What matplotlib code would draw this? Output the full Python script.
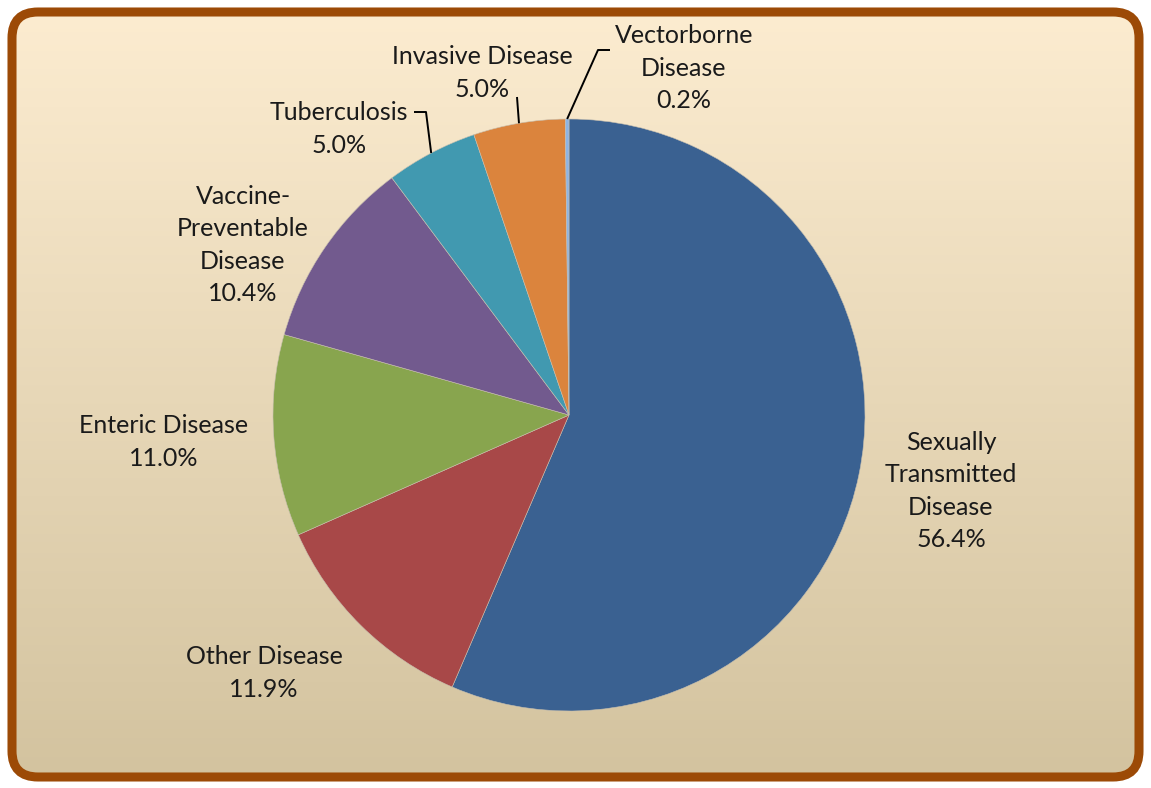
import numpy as np
import matplotlib.pyplot as plt
from matplotlib.patches import FancyBboxPatch

# data
categories = ['Sexually\nTransmitted\nDisease', 'Other Disease', 'Enteric Disease',
              'Vaccine-\nPreventable\nDisease', 'Tuberculosis', 'Invasive Disease',
              'Vectorborne\nDisease']
percents = [56.4, 11.9, 11.0, 10.4, 5.0, 5.0, 0.2]
colors = ['#3A6191', '#A84848', '#88A54E', '#725A8E', '#4199B0', '#DB843D', '#8EB4E3']

W, H = 1151, 788
fig = plt.figure(figsize=(W / 100, H / 100), dpi=100)
ax = fig.add_axes([0, 0, 1, 1])

# rounded frame with vertical gradient
frame = FancyBboxPatch((12, 11), W - 24, H - 23,
                       boxstyle='round,pad=0,rounding_size=26',
                       facecolor='none', edgecolor='#9C4A06', lw=6.5, zorder=3)
ax.add_patch(frame)
top = np.array([252, 236, 208]) / 255
bot = np.array([211, 195, 159]) / 255
t = np.linspace(0, 1, 256)[:, None]
grad = (top * (1 - t) + bot * t)[:, None, :]
im = ax.imshow(grad, extent=[12, W - 12, 11, H - 12], aspect='auto',
               origin='upper', zorder=0)
im.set_clip_path(frame)

cx, cy, r = 569, H - 415, 296
wedges, _ = ax.pie(percents, colors=colors, startangle=90, counterclock=False,
                   center=(cx, cy), radius=r, frame=True,
                   wedgeprops=dict(linewidth=0.4, edgecolor='#C8C0B0'))
for w in wedges:
    w.set_zorder(2)
ax.set_xlim(0, W)
ax.set_ylim(0, H)
ax.set_aspect('equal')
ax.axis('off')

font = dict(family=['Lato', 'DejaVu Sans'], fontsize=18, color='#1A1A1A',
            ha='center', va='center', linespacing=1.48, zorder=4)

def edge_point(i):
    w = wedges[i]
    a = np.deg2rad((w.theta1 + w.theta2) / 2)
    return cx + r * np.cos(a), cy + r * np.sin(a)

label_pos = [(951, 491), (264, 673), (164, 442), (243, 245), (339, 129), (482, 73), (684, 68)]
for i, (lab, p) in enumerate(zip(categories, percents)):
    x, y = label_pos[i]
    ax.text(x, H - y, f'{lab}\n{p:.1f}%', **font)

# leader lines
lk = dict(color='black', lw=1.4, zorder=4, solid_capstyle='butt')
ex, ey = edge_point(4)
ax.plot([414, 426, ex], [H - 112, H - 112, ey], **lk)
ex, ey = edge_point(5)
ax.plot([517, ex], [H - 97, ey], **lk)
ex, ey = edge_point(6)
ax.plot([610, 598, ex], [H - 50, H - 50, ey], **lk)

fig.savefig('out.png', dpi=100, facecolor='white')
